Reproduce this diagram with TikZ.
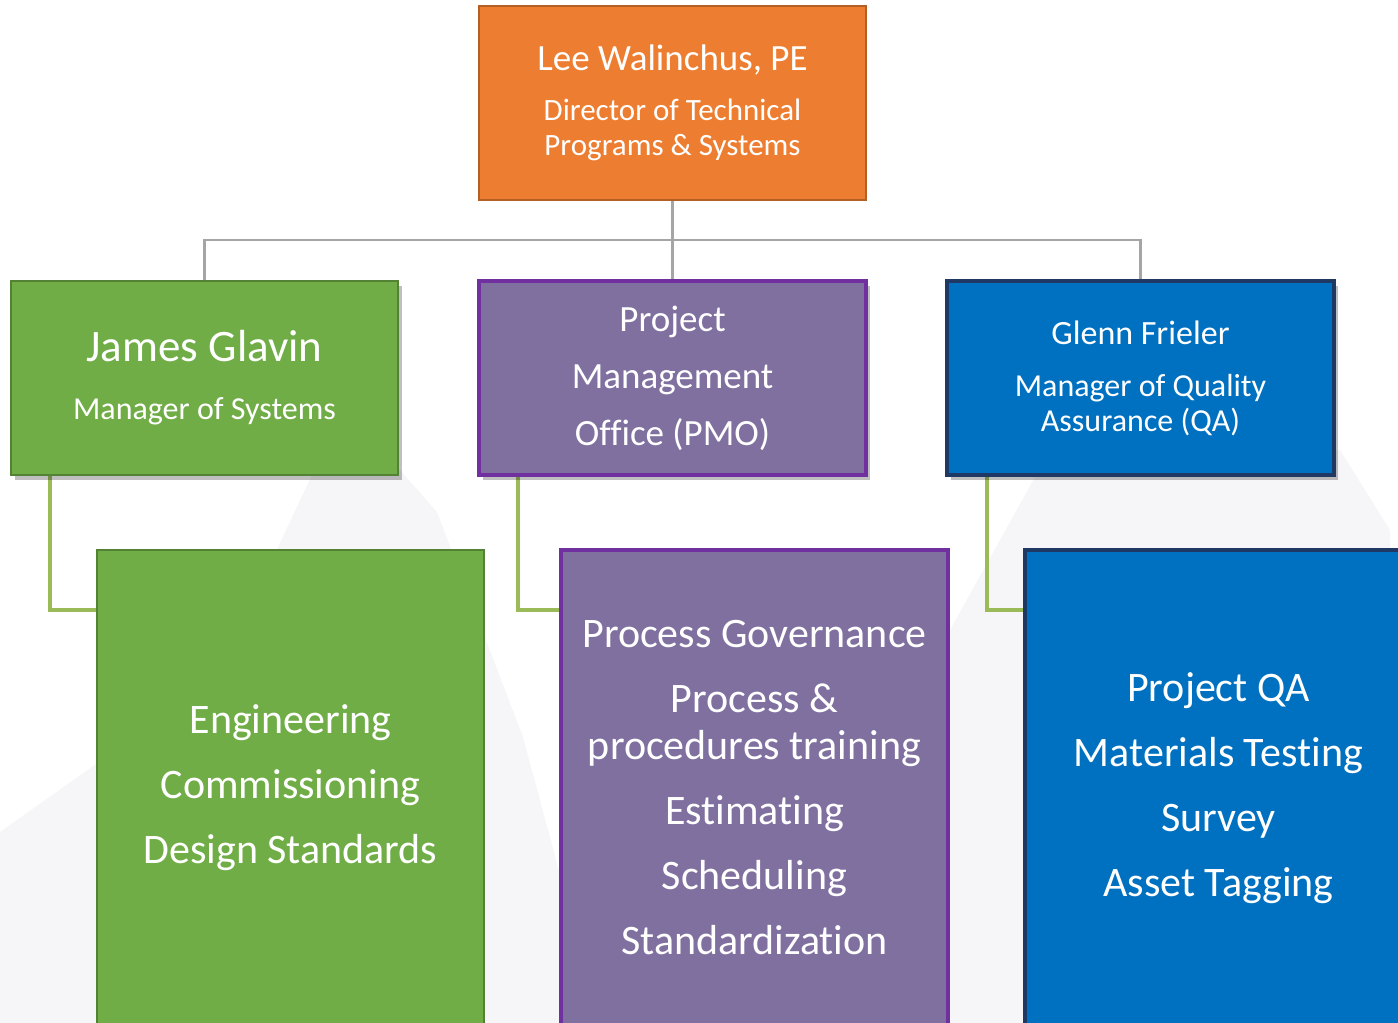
\documentclass[tikz,border=0pt]{standalone}
\usepackage{fontspec}
\setmainfont{Carlito}[Ligatures=NoCommon]
\usepackage{xcolor}
\usetikzlibrary{positioning,shadows,backgrounds}
\definecolor{leadorange}{HTML}{ED7D31}
\definecolor{leadorangedark}{HTML}{B45F23}
\definecolor{sysgreen}{HTML}{70AD47}
\definecolor{sysgreendark}{HTML}{548235}
\definecolor{pmopurple}{HTML}{8070A0}
\definecolor{pmopurpledark}{HTML}{7030A0}
\definecolor{qablue}{HTML}{0070C0}
\definecolor{qabluedark}{HTML}{1F3864}
\definecolor{treegray}{HTML}{A5A5A5}
\definecolor{branchgreen}{HTML}{9BBB59}
\definecolor{backdrop}{HTML}{F6F6F9}

\tikzset{
  box/.style={rectangle, text=white, align=center, inner sep=0pt, outer sep=0pt,
    minimum width=387pt},
  headbox/.style={box, minimum height=194pt},
  jobsbox/.style={box, minimum height=476pt, anchor=north west,
    font=\fontsize{42}{65}\selectfont},
  boxshadow/.style={drop shadow={shadow xshift=4pt, shadow yshift=-5pt, fill=black, opacity=.25}},
  treeline/.style={treegray, line width=2.5pt},
  subline/.style={branchgreen, line width=4pt},
}

\begin{document}
\begin{tikzpicture}[x=1pt,y=-1pt]
  \useasboundingbox (0,0) rectangle (1398,1023);

  % director
  \node[headbox, fill=leadorange, draw=leadorangedark, line width=2pt,
        font=\fontsize{31}{35}\selectfont] (top) at (672.5,103)
    {{\fontsize{37}{44}\selectfont Lee Walinchus, PE}\\[15pt]Director of Technical\\Programs \& Systems};

  % managers
  \node[headbox, boxshadow, fill=pmopurple, draw=pmopurpledark, line width=3.5pt,
        font=\fontsize{37}{57}\selectfont, below=81pt of top] (pmo)
    {Project\\Management\\Office (PMO)};
  \node[headbox, boxshadow, fill=sysgreen, draw=sysgreendark, line width=2.5pt,
        font=\fontsize{32}{38}\selectfont, left=81pt of pmo] (sys)
    {{\fontsize{45}{50}\selectfont James Glavin}\\[20pt]Manager of Systems};
  \node[headbox, boxshadow, fill=qablue, draw=qabluedark, line width=4pt,
        font=\fontsize{32}{35}\selectfont, right=81pt of pmo] (qa)
    {{\fontsize{34}{40}\selectfont Glenn Frieler}\\[17pt]Manager of Quality\\Assurance (QA)};

  % duties
  \node[jobsbox, fill=sysgreen, draw=sysgreendark, line width=2pt] (sysjobs) at (97,550)
    {Engineering\\Commissioning\\Design Standards};
  \node[jobsbox, fill=pmopurple, draw=pmopurpledark, line width=3.5pt] (pmojobs) at (561,550)
    {Process Governance\\Process \&\\[-18pt]procedures training\\Estimating\\Scheduling\\Standardization};
  \node[jobsbox, fill=qablue, draw=qabluedark, line width=4pt] (qajobs) at (1025,550)
    {Project QA\\Materials Testing\\Survey\\Asset Tagging};

  \begin{scope}[on background layer]
    % faint backdrop
    \fill[backdrop] (0,832) -- (216,679) -- (318,462) -- (400,470) -- (437,512)
      -- (523,737) -- (600,1023) -- (0,1023) -- cycle;
    \fill[backdrop] (1050,450) -- (1340,450) -- (1390,530) -- (1398,1023)
      -- (690,1023) -- (950,630) -- cycle;
    % reporting lines
    \coordinate (bus) at (672.5,240);
    \draw[treeline] (top.south) -- (bus);
    \draw[treeline] (sys.north) |- (bus) -| (qa.north);
    \draw[treeline] (bus) -- (pmo.north);
    \draw[subline] ([xshift=39pt]sys.south west) |- ([yshift=-60pt]sysjobs.north west);
    \draw[subline] ([xshift=39pt]pmo.south west) |- ([yshift=-60pt]pmojobs.north west);
    \draw[subline] ([xshift=40pt]qa.south west) |- ([yshift=-60pt]qajobs.north west);
  \end{scope}
\end{tikzpicture}
\end{document}
